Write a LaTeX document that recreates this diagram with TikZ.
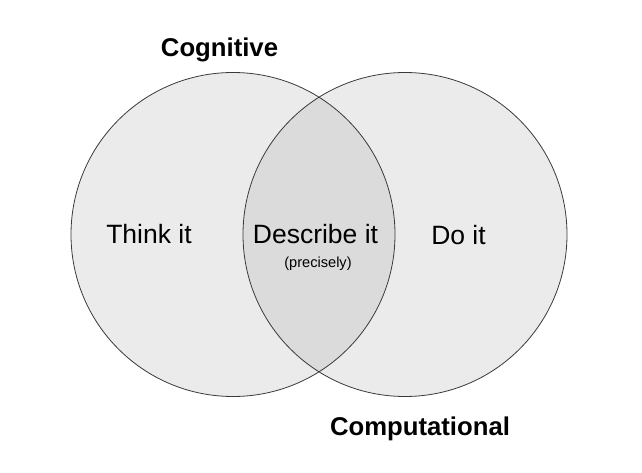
\documentclass[tikz,border=0pt]{standalone}
\usepackage{fontspec}
\setmainfont{Liberation Sans}
\begin{document}
\begin{tikzpicture}[x=1pt,y=-1pt]
\definecolor{circfill}{HTML}{EBEBEB}
\definecolor{lensfill}{HTML}{DBDBDB}
\definecolor{edge}{HTML}{3A3A3A}
\tikzset{
  venn/.style={circle, minimum size=324pt, inner sep=0pt, draw=none, fill=circfill},
  outline/.style={draw=edge, line width=0.8pt},
  regionlabel/.style={anchor=base, inner sep=0pt, font=\fontsize{26.5}{30}\selectfont},
  smalllabel/.style={anchor=base, inner sep=0pt, font=\fontsize{14.6}{17}\selectfont},
  titlelabel/.style={anchor=base, inner sep=0pt, font=\bfseries\fontsize{25.7}{30}\selectfont}
}
\useasboundingbox[fill=white] (0,0) rectangle (642,473);
\node[venn] (L) at (233,234.5) {};
\node[venn] (R) at (405,234.5) {};
\begin{scope}
  \clip (L.center) circle (162pt);
  \fill[lensfill] (R.center) circle (162pt);
\end{scope}
\draw[outline] (L.center) circle (162pt);
\draw[outline] (R.center) circle (162pt);
\node[regionlabel] (think) at (149,243) {Think it};
\node[regionlabel] (describe) at (315.5,243) {Describe it};
\node[smalllabel] (precisely) at (318,267) {(precisely)};
\node[regionlabel] (do) at (458.5,244) {Do it};
\node[titlelabel] (cog) at (219.5,56.7) {Cognitive};
\node[titlelabel] (comp) at (420,435) {Computational};
\end{tikzpicture}
\end{document}
